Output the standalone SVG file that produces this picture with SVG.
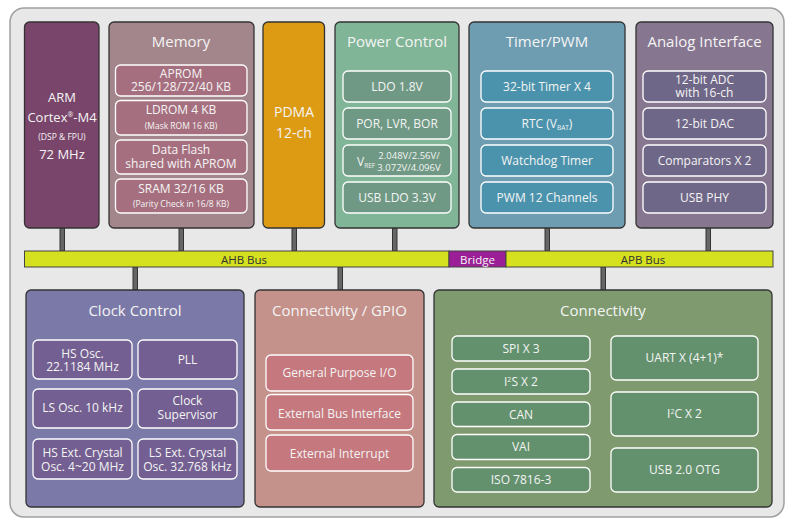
<svg xmlns="http://www.w3.org/2000/svg" width="790" height="520" viewBox="0 0 790 520">
<style>
text{font-family:"Open Sans","Noto Sans",sans-serif;fill:#f4f4f4;text-anchor:middle}
.blk{stroke:#333;stroke-width:1.3}
.in{stroke:#fff;stroke-width:1.3}
.t{font-size:15px}
.m{font-size:12px}
.s{font-size:8.5px}
.bus{fill:#d5e01f;stroke:#444;stroke-width:1}
.bl{fill:#333;font-size:11.5px}
.con{fill:#666;stroke:#333;stroke-width:1}
</style>
<rect x="10" y="8" width="774" height="509" rx="14" fill="#e8e8e8" stroke="#a0a0a0" stroke-width="1.5"/>
<g id="connectors">
<rect class="con" x="60" y="228" width="4.5" height="23"/>
<rect class="con" x="179" y="228" width="4.5" height="23"/>
<rect class="con" x="292" y="228" width="4.5" height="23"/>
<rect class="con" x="392.5" y="228" width="4.5" height="23"/>
<rect class="con" x="545" y="228" width="4.5" height="23"/>
<rect class="con" x="706" y="228" width="4.5" height="23"/>
<rect class="con" x="133" y="267" width="4.5" height="23"/>
<rect class="con" x="338" y="267" width="4.5" height="23"/>
<rect class="con" x="601" y="267" width="4.5" height="23"/>
</g>
<g id="ahb-bus">
<rect class="bus" x="24.5" y="251" width="424.5" height="16"/>
<text class="bl" x="244" y="263.5">AHB Bus</text>
</g>
<g id="bridge">
<rect x="449" y="251" width="57" height="16" fill="#9b1f96" stroke="#444" stroke-width="1"/>
<text x="477.5" y="263.5" style="font-size:11.5px">Bridge</text>
</g>
<g id="apb-bus">
<rect class="bus" x="506" y="251" width="267" height="16"/>
<text class="bl" x="643" y="264">APB Bus</text>
</g>
<g id="arm">
<rect class="blk" x="24.5" y="22" width="74.5" height="206" rx="5" fill="#7a456a"/>
<text x="62" y="102" style="font-size:13px">ARM</text>
<text x="62" y="122" style="font-size:13px">Cortex<tspan dy="-5" style="font-size:7px">®</tspan><tspan dy="5">-M4</tspan></text>
<text x="62" y="140" style="font-size:8.5px">(DSP &amp; FPU)</text>
<text x="62" y="159" style="font-size:13px">72 MHz</text>
</g>
<g id="memory">
<rect class="blk" x="109" y="22" width="145" height="206" rx="5" fill="#a3868b"/>
<text class="t" x="181" y="47">Memory</text>
<rect class="in" x="115.5" y="65" width="131.5" height="31" rx="5" fill="#a66f7f"/>
<text class="m" x="181" y="77.5">APROM</text>
<text class="m" x="181" y="91">256/128/72/40 KB</text>
<rect class="in" x="115.5" y="100.5" width="131.5" height="34.5" rx="5" fill="#a66f7f"/>
<text class="m" x="181" y="113.5">LDROM 4 KB</text>
<text class="s" x="181" y="129">(Mask ROM 16 KB)</text>
<rect class="in" x="115.5" y="140" width="131.5" height="34" rx="5" fill="#a66f7f"/>
<text class="m" x="181" y="154">Data Flash</text>
<text class="m" x="181" y="168">shared with APROM</text>
<rect class="in" x="115.5" y="179" width="131.5" height="34" rx="5" fill="#a66f7f"/>
<text class="m" x="181" y="193">SRAM 32/16 KB</text>
<text class="s" x="181" y="207">(Parity Check in 16/8 KB)</text>
</g>
<g id="pdma">
<rect class="blk" x="263" y="22" width="61.5" height="206" rx="5" fill="#dc9b13"/>
<text x="294" y="117" style="font-size:14px">PDMA</text>
<text x="294" y="138" style="font-size:14px">12-ch</text>
</g>
<g id="power">
<rect class="blk" x="335" y="22" width="124" height="206" rx="5" fill="#80b597"/>
<text class="t" x="397" y="47">Power Control</text>
<rect class="in" x="343" y="71" width="108" height="31" rx="5" fill="#6f9985"/>
<text class="m" x="397" y="91">LDO 1.8V</text>
<rect class="in" x="343" y="108" width="108" height="31" rx="5" fill="#6f9985"/>
<text class="m" x="397" y="128">POR, LVR, BOR</text>
<rect class="in" x="343" y="145" width="108" height="31" rx="5" fill="#6f9985"/>
<text x="357" y="165.5" style="font-size:12px;text-anchor:start">V<tspan dy="2" style="font-size:6.5px">REF</tspan></text>
<text x="409" y="158.5" style="font-size:9.5px">2.048V/2.56V/</text>
<text x="409" y="170.5" style="font-size:9.5px">3.072V/4.096V</text>
<rect class="in" x="343" y="182" width="108" height="31" rx="5" fill="#6f9985"/>
<text class="m" x="397" y="202">USB LDO 3.3V</text>
</g>
<g id="timer">
<rect class="blk" x="469" y="22" width="156" height="206" rx="5" fill="#6e9db2"/>
<text class="t" x="547" y="47">Timer/PWM</text>
<rect class="in" x="481" y="71" width="132" height="31" rx="5" fill="#4b93ad"/>
<text class="m" x="547" y="91">32-bit Timer X 4</text>
<rect class="in" x="481" y="108" width="132" height="31" rx="5" fill="#4b93ad"/>
<text class="m" x="547" y="128">RTC (V<tspan dy="2" style="font-size:6.5px">BAT</tspan><tspan dy="-2">)</tspan></text>
<rect class="in" x="481" y="145" width="132" height="31" rx="5" fill="#4b93ad"/>
<text class="m" x="547" y="165">Watchdog Timer</text>
<rect class="in" x="481" y="182" width="132" height="31" rx="5" fill="#4b93ad"/>
<text class="m" x="547" y="202">PWM 12 Channels</text>
</g>
<g id="analog">
<rect class="blk" x="636" y="22" width="137" height="206" rx="5" fill="#877690"/>
<text class="t" x="704.5" y="47">Analog Interface</text>
<rect class="in" x="643" y="71" width="123" height="31" rx="5" fill="#6f6788"/>
<text class="m" x="704.5" y="84">12-bit ADC</text>
<text class="m" x="704.5" y="97">with 16-ch</text>
<rect class="in" x="643" y="108" width="123" height="31" rx="5" fill="#6f6788"/>
<text class="m" x="704.5" y="128">12-bit DAC</text>
<rect class="in" x="643" y="145" width="123" height="31" rx="5" fill="#6f6788"/>
<text class="m" x="704.5" y="165">Comparators X 2</text>
<rect class="in" x="643" y="182" width="123" height="31" rx="5" fill="#6f6788"/>
<text class="m" x="704.5" y="202">USB PHY</text>
</g>
<g id="clock">
<rect class="blk" x="26" y="290" width="218" height="217" rx="5" fill="#7b79a8"/>
<text class="t" x="135" y="316">Clock Control</text>
<rect class="in" x="33" y="340" width="99" height="39" rx="5" fill="#735f91"/>
<text class="m" x="82.5" y="358">HS Osc.</text>
<text class="m" x="82.5" y="371">22.1184 MHz</text>
<rect class="in" x="138" y="340" width="99" height="39" rx="5" fill="#735f91"/>
<text class="m" x="187.5" y="363.5">PLL</text>
<rect class="in" x="33" y="389" width="99" height="39" rx="5" fill="#735f91"/>
<text class="m" x="82.5" y="411.5">LS Osc. 10 kHz</text>
<rect class="in" x="138" y="389" width="99" height="39" rx="5" fill="#735f91"/>
<text class="m" x="187.5" y="405">Clock</text>
<text class="m" x="187.5" y="419">Supervisor</text>
<rect class="in" x="33" y="439" width="99" height="40" rx="5" fill="#735f91"/>
<text class="m" x="82.5" y="457">HS Ext. Crystal</text>
<text class="m" x="82.5" y="471">Osc. 4~20 MHz</text>
<rect class="in" x="138" y="439" width="99" height="40" rx="5" fill="#735f91"/>
<text class="m" x="187.5" y="457">LS Ext. Crystal</text>
<text class="m" x="187.5" y="471">Osc. 32.768 kHz</text>
</g>
<g id="gpio">
<rect class="blk" x="255" y="290" width="169" height="217" rx="5" fill="#c4918b"/>
<text class="t" x="339.5" y="316">Connectivity / GPIO</text>
<rect class="in" x="266" y="355" width="147" height="36" rx="5" fill="#c5787d"/>
<text class="m" x="339.5" y="377">General Purpose I/O</text>
<rect class="in" x="266" y="394.5" width="147" height="35.5" rx="5" fill="#c5787d"/>
<text class="m" x="339.5" y="418">External Bus Interface</text>
<rect class="in" x="266" y="435" width="147" height="36" rx="5" fill="#c5787d"/>
<text class="m" x="339.5" y="458">External Interrupt</text>
</g>
<g id="connectivity">
<rect class="blk" x="434" y="290" width="338" height="217" rx="5" fill="#7f9a6e"/>
<text class="t" x="603" y="316">Connectivity</text>
<rect class="in" x="452" y="336" width="138" height="25" rx="5" fill="#63916d"/>
<text class="m" x="521" y="352.5">SPI X 3</text>
<rect class="in" x="452" y="369" width="138" height="25" rx="5" fill="#63916d"/>
<text class="m" x="521" y="385.5">I<tspan dy="-4" style="font-size:7px">2</tspan><tspan dy="4">S X 2</tspan></text>
<rect class="in" x="452" y="402" width="138" height="24.5" rx="5" fill="#63916d"/>
<text class="m" x="521" y="418.5">CAN</text>
<rect class="in" x="452" y="434.5" width="138" height="25" rx="5" fill="#63916d"/>
<text class="m" x="521" y="451">VAI</text>
<rect class="in" x="452" y="467.5" width="138" height="24.5" rx="5" fill="#63916d"/>
<text class="m" x="521" y="484">ISO 7816-3</text>
<rect class="in" x="611" y="336" width="147" height="44" rx="5" fill="#63916d"/>
<text class="m" x="684.5" y="362">UART X (4+1)*</text>
<rect class="in" x="611" y="392" width="147" height="44" rx="5" fill="#63916d"/>
<text class="m" x="684.5" y="418">I<tspan dy="-4" style="font-size:7px">2</tspan><tspan dy="4">C X 2</tspan></text>
<rect class="in" x="611" y="448" width="147" height="44" rx="5" fill="#63916d"/>
<text class="m" x="684.5" y="474">USB 2.0 OTG</text>
</g>
</svg>
